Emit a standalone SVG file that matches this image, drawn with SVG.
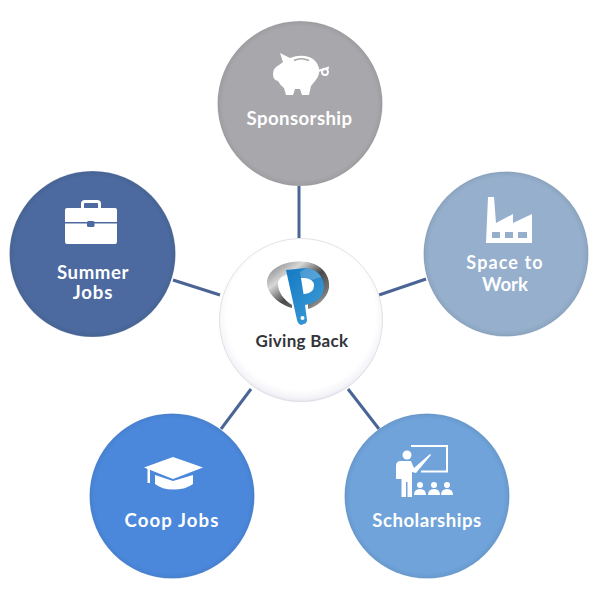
<svg xmlns="http://www.w3.org/2000/svg" width="600" height="600" viewBox="0 0 600 600">
<defs>
<radialGradient id="bevel" cx="50%" cy="50%" r="50%">
<stop offset="0.93" stop-color="#000" stop-opacity="0"/>
<stop offset="0.985" stop-color="#000" stop-opacity="0.05"/>
<stop offset="1" stop-color="#fff" stop-opacity="0.35"/>
</radialGradient>
<radialGradient id="center" cx="50%" cy="47%" r="53%">
<stop offset="0.86" stop-color="#fff"/>
<stop offset="0.95" stop-color="#f5f5f9"/>
<stop offset="1" stop-color="#e6e6ee"/>
</radialGradient>
<linearGradient id="ring" x1="0" y1="0" x2="1" y2="1">
<stop offset="0" stop-color="#6f6f6f"/>
<stop offset="0.3" stop-color="#d8d8d8"/>
<stop offset="0.55" stop-color="#4a4a4a"/>
<stop offset="0.8" stop-color="#777"/>
<stop offset="1" stop-color="#d0d0d0"/>
</linearGradient>
<linearGradient id="pblue" x1="0" y1="0" x2="1" y2="1">
<stop offset="0" stop-color="#1479c4"/>
<stop offset="1" stop-color="#3f9fd8"/>
</linearGradient>
</defs>
<style>
.conn{stroke:#4a6496;stroke-width:3;fill:none}
.lbl{font-family:"Lato","Liberation Sans",sans-serif;font-weight:700;font-size:18.6px;fill:#fff;text-anchor:middle;letter-spacing:.4px}
.ico{fill:#fff}
.bev{fill:url(#bevel)}
</style>
<rect width="600" height="600" fill="#fff"/>
<g id="connectors">
<line class="conn" x1="299" y1="186" x2="299" y2="238"/>
<line class="conn" x1="173" y1="280" x2="220" y2="295"/>
<line class="conn" x1="379" y1="295" x2="426" y2="279"/>
<line class="conn" x1="221" y1="429" x2="251" y2="389"/>
<line class="conn" x1="348" y1="389" x2="379" y2="429"/>
</g>
<g id="sponsorship">
<circle cx="300" cy="103.500" r="82.500" fill="#a8a8ac"/>
<circle class="bev" cx="300" cy="103.500" r="82.500"/>
<path class="ico" d="M280 53 L290 58 Q300 54 309 57 Q317 60 319 68 Q320 76 315 81 L311 86 L309 95 L302 95 L300 89 L295 89 L293 95 L286 95 L284 88 Q280 85 278 81 Q273 80 273 74 Q273 68 279 65 L283 62 Z"/>
<path d="M294 60.500 Q301 57 309 60.500" fill="none" stroke="#a8a8ac" stroke-width="1.500"/>
<path d="M318 71 L329 67.500" stroke="#fff" stroke-width="2"/>
<circle cx="325" cy="72" r="3" fill="none" stroke="#fff" stroke-width="1.800"/>
<text class="lbl" x="299.500" y="124.500">Sponsorship</text>
</g>
<g id="space-to-work">
<circle cx="506" cy="254" r="82.500" fill="#95afcc"/>
<circle class="bev" cx="506" cy="254" r="82.500"/>
<path class="ico" d="M488 197 L494 197 L496 223 L513 214 L513 223 L532 214 L532 243 L486 243 Z"/>
<rect x="492" y="232" width="8" height="6" fill="#95afcc"/>
<rect x="505" y="232" width="8" height="6" fill="#95afcc"/>
<rect x="518" y="232" width="9" height="6" fill="#95afcc"/>
<text class="lbl" x="505" y="269" style="font-size:18px;letter-spacing:1.100px">Space to</text>
<text class="lbl" x="505" y="290.500" style="letter-spacing:0">Work</text>
</g>
<g id="scholarships">
<circle cx="427" cy="496" r="82.500" fill="#6fa3da"/>
<circle class="bev" cx="427" cy="496" r="82.500"/>
<path d="M411 446 H447 V471.500 H421" fill="none" stroke="#fff" stroke-width="2"/>
<circle class="ico" cx="407" cy="455" r="4.500"/>
<path class="ico" d="M401 461 H411 L414 468 L430 454 L431 455 L416 473 L412 472 V497 H407.500 V482 H406 V497 H401.500 V479 H396 V466 Q396 461 401 461 Z"/>
<g class="ico">
<circle cx="420" cy="485" r="3"/><path d="M414 495 Q414 489 420 489 Q426 489 426 495 Z"/>
<circle cx="434" cy="485" r="3"/><path d="M428 495 Q428 489 434 489 Q440 489 440 495 Z"/>
<circle cx="447" cy="485" r="3"/><path d="M441 495 Q441 489 447 489 Q453 489 453 495 Z"/>
</g>
<text class="lbl" x="427" y="526.500" style="letter-spacing:.5px">Scholarships</text>
</g>
<g id="coop-jobs">
<circle cx="172" cy="496" r="82.500" fill="#4b88dc"/>
<circle class="bev" cx="172" cy="496" r="82.500"/>
<path class="ico" d="M173 457 L203 467.500 L173 479 L144 467.500 Z"/>
<path class="ico" d="M155 475 L173 481 L193 475 V484 Q186 489.500 173 489.500 Q162 489.500 155 484 Z"/>
<rect class="ico" x="147.500" y="468" width="2.500" height="15"/>
<text class="lbl" x="172" y="526.500" style="letter-spacing:1.100px">Coop Jobs</text>
</g>
<g id="summer-jobs">
<circle cx="92.500" cy="254" r="83" fill="#4c6a9f"/>
<circle class="bev" cx="92.500" cy="254" r="83"/>
<path d="M82.500 208 V203.500 Q82.500 201.500 85 201.500 H97 Q99.500 201.500 99.500 203.500 V208" fill="none" stroke="#fff" stroke-width="3"/>
<path class="ico" d="M67 208 H115 Q117 208 117 210 V222 H65 V210 Q65 208 67 208 Z"/>
<path class="ico" d="M65 223.500 H117 V241.500 Q117 244 115 244 H67 Q65 244 65 241.500 Z"/>
<rect x="87" y="221" width="7.500" height="6" rx="1.500" fill="#4c6a9f"/>
<text class="lbl" x="93" y="278.500" style="letter-spacing:.6px">Summer</text>
<text class="lbl" x="93" y="298.500" style="letter-spacing:.9px">Jobs</text>
</g>
<g id="giving-back">
<circle cx="301" cy="320" r="82" fill="url(#center)"/>
<circle cx="301" cy="320" r="81.500" fill="none" stroke="#dcdce2" stroke-width=".8"/>
<path fill="url(#ring)" fill-rule="evenodd" d="M298 261.500 C318 260 331 273 329 288 C327 299 316 307 308 309 L308 303 C316 300 321 295 321 288 C321 279 313 273 299 273 C286 273 278 277 278 284 C278 292 284 300 292 305 L292 308 C278 304 267 293 267 283 C267 270 282 262 298 261.500 Z"/>
<path fill="url(#pblue)" d="M286 270 L306 268 Q323 270 324 287 Q323 302 305 305 L307 320 Q307 323 304 324 L301 325 Q298 324 297 320 Z"/>
<path fill="#fff" d="M301 278 L305 278 Q314 279 314 285.500 Q314 293 305 294 L303.500 294 Z"/>
<path fill="#ffffff" fill-opacity="0.2" d="M306 268 Q316 269 321 277 L312 280 Q308 277 301 278 L300 272 Z"/>
<circle cx="302.500" cy="318" r="2" fill="#fff"/>
<text x="302" y="346.500" font-family="Lato, 'Liberation Sans', sans-serif" font-weight="700" font-size="17" fill="#33343a" text-anchor="middle" letter-spacing=".3">Giving Back</text>
</g>
</svg>
